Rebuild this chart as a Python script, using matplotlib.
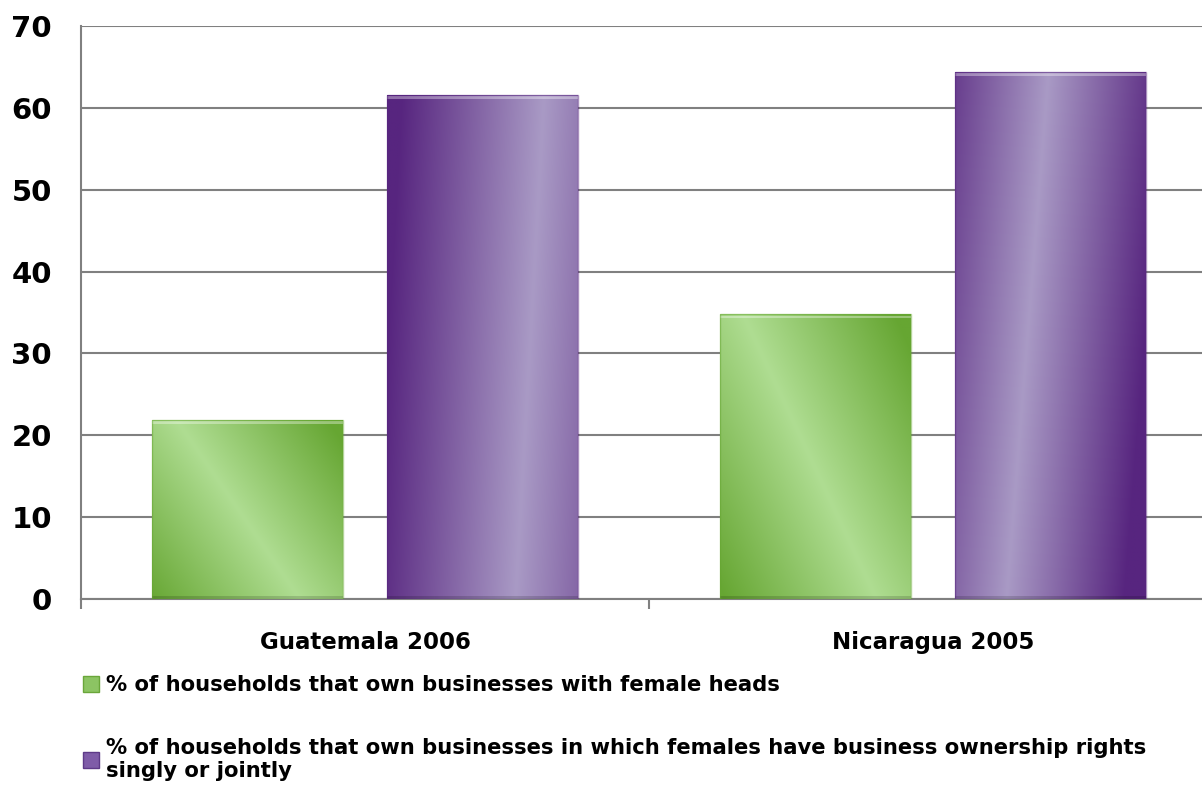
import numpy as np
from matplotlib import pyplot as plt
from matplotlib.patches import Patch, Rectangle
from matplotlib.colors import to_rgb

# data
categories = ["Guatemala 2006", "Nicaragua 2005"]
female_heads = [21.9, 34.8]
ownership_rights = [61.6, 64.4]
legend_labels = ["% of households that own businesses with female heads",
                 "% of households that own businesses in which females have business ownership rights\nsingly or jointly"]
yticks = [0, 10, 20, 30, 40, 50, 60, 70]

green_light, green_dark = "#afdd92", "#66a632"
purple_light, purple_dark = "#a99ac5", "#57257f"

fig = plt.figure(figsize=(12.02, 7.88), dpi=100)
ax = fig.add_axes([81/1202, 189/788, 1136/1202, 573/788])

x = np.arange(len(categories))
w = 0.336
off = 0.207
bars_g = ax.bar(x - off, female_heads, w, color="none", edgecolor="none", zorder=3)
bars_p = ax.bar(x + off, ownership_rights, w, color="none", edgecolor="none", zorder=3)

# gradient style per bar: (light, dark, centre, tilt, spread)
styles = [
    (bars_g[0], green_light, green_dark, 0.45, 0.65, 0.8),
    (bars_g[1], green_light, green_dark, 0.47, 0.7, 0.8),
    (bars_p[0], purple_light, purple_dark, 0.75, -0.15, 0.75),
    (bars_p[1], purple_light, purple_dark, 0.38, -0.22, 0.62),
]

u = np.linspace(0, 1, 200)[None, :]
v = np.linspace(0, 1, 200)[:, None]
for rect, light, dark, c, tilt, spread in styles:
    x0, h, bw = rect.get_x(), rect.get_height(), rect.get_width()
    p = u + tilt * (v - 0.5)
    t = np.clip(np.abs(p - c) / spread, 0, 1)[..., None]
    img = (1 - t) * np.array(to_rgb(light)) + t * np.array(to_rgb(dark))
    im = ax.imshow(img, extent=[x0, x0 + bw, 0, h], origin="lower",
                   aspect="auto", zorder=3, interpolation="bilinear")
    im.set_clip_path(rect)
    # bevel: light strip at top, dark strip at bottom
    ax.add_patch(Rectangle((x0, h - 0.5), bw, 0.3, color="white", alpha=0.35,
                           lw=0, zorder=4))
    ax.add_patch(Rectangle((x0, 0), bw, 0.35, color="black", alpha=0.15,
                           lw=0, zorder=4))
    ax.add_patch(Rectangle((x0, 0), bw, h, fill=False, edgecolor=dark,
                           alpha=0.5, lw=1, zorder=4))

ax.set_xlim(-0.5, len(categories) - 0.5)
ax.set_ylim(0, 70)
ax.set_yticks(yticks)
ax.set_xticks(x)
ax.set_xticklabels(categories, fontsize=16.5, fontweight="bold")
ax.set_xticks(np.arange(len(categories) + 1) - 0.5, minor=True)
ax.tick_params(axis="x", which="major", length=0, pad=23)
ax.tick_params(axis="x", which="minor", length=7, width=1.5, color="#808080")
ax.tick_params(axis="y", length=0, pad=21, labelsize=21)
for lab in ax.get_yticklabels():
    lab.set_fontweight("bold")

ax.grid(axis="y", color="#808080", lw=1.5, zorder=1)
ax.set_axisbelow(True)
for s in ["top", "right"]:
    ax.spines[s].set_visible(False)
for s in ["left", "bottom"]:
    ax.spines[s].set_color("#808080")
    ax.spines[s].set_linewidth(1.5)

handles = [Patch(facecolor="#8cc463", edgecolor="#6aa63a"),
           Patch(facecolor="#7f5ca8", edgecolor="#5e3a88")]
fig.legend(handles, legend_labels, loc="upper left", bbox_to_anchor=(83/1202, 0.143),
           frameon=False, borderpad=0, borderaxespad=0, handlelength=0.75,
           handleheight=0.75, handletextpad=0.35, labelspacing=2.0,
           prop={"size": 15.2, "weight": "bold"})

fig.savefig("out.png", dpi=100)
